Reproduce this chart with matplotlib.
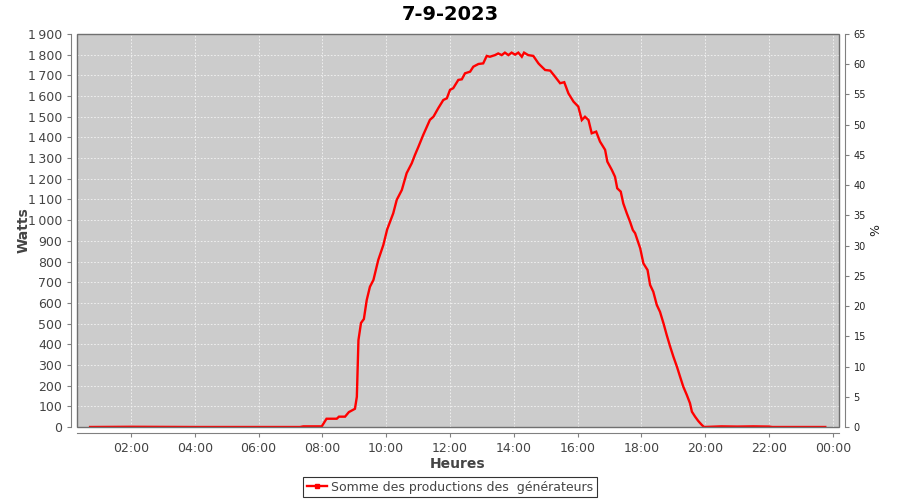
import matplotlib.pyplot as plt
from matplotlib.lines import Line2D
from matplotlib.patches import Rectangle
from matplotlib.ticker import FuncFormatter

# Production readings: decimal hours and watts
hours = [0.72, 2.0, 4.0, 6.0, 7.30, 7.40, 7.98, 8.13, 8.45, 8.52, 8.71, 8.83,
         9.02, 9.08, 9.13, 9.21, 9.30, 9.39, 9.49, 9.60, 9.75, 9.91, 10.03,
         10.22, 10.33, 10.49, 10.64, 10.80, 10.90, 11.01, 11.16, 11.37, 11.48,
         11.63, 11.79, 11.90, 12.00, 12.10, 12.26, 12.37, 12.47, 12.63, 12.73,
         12.89, 13.04, 13.15, 13.25, 13.41, 13.51, 13.62, 13.72, 13.83, 13.93,
         14.04, 14.14, 14.25, 14.32, 14.45, 14.61, 14.77, 14.82, 14.98, 15.14,
         15.29, 15.45, 15.58, 15.71, 15.87, 16.02, 16.13, 16.23, 16.34, 16.44,
         16.58, 16.70, 16.86, 16.93, 17.07, 17.17, 17.24, 17.35, 17.43, 17.54,
         17.64, 17.73, 17.80, 17.96, 18.06, 18.19, 18.27, 18.37, 18.48, 18.58,
         18.69, 18.79, 18.90, 19.00, 19.11, 19.21, 19.31, 19.42, 19.52, 19.58,
         19.68, 19.78, 19.89, 19.96, 20.5, 21.0, 21.5, 22.0, 22.1, 23.76]
watts = [0, 1, 0, 0, 0, 3, 3, 40, 40, 50, 50, 72,
         88, 146, 420, 503, 522, 614, 678, 711, 807, 880, 955,
         1033, 1098, 1146, 1227, 1275, 1315, 1355, 1412, 1485, 1500,
         1541, 1581, 1589, 1630, 1638, 1678, 1681, 1710, 1718, 1742,
         1755, 1758, 1794, 1790, 1798, 1806, 1798, 1810, 1798, 1810,
         1800, 1810, 1790, 1810, 1798, 1794, 1758, 1750, 1726, 1723,
         1694, 1662, 1667, 1613, 1573, 1549, 1484, 1500, 1484, 1420,
         1428, 1380, 1340, 1283, 1243, 1210, 1154, 1138, 1081, 1033,
         993, 952, 937, 864, 791, 759, 687, 654, 590, 557,
         501, 445, 388, 340, 292, 243, 195, 155, 115, 74,
         50, 29, 10, 0, 3, 2, 3, 2, 0, 0]

title = "7-9-2023"
series_name = "Somme des productions des  générateurs"
x_ticks = [2, 4, 6, 8, 10, 12, 14, 16, 18, 20, 22, 24]
w_ticks = list(range(0, 2000, 100))
pct_ticks = list(range(0, 70, 5))

grey_txt = "#444444"
axis_col = "#808080"

fig = plt.figure(figsize=(9, 5), dpi=100)
ax = fig.add_axes([77 / 900, 1 - 427 / 500, (839 - 77) / 900, (427 - 34) / 500])
ax.set_facecolor("#cccccc")

ax.plot(hours, watts, color="red", lw=1.7, solid_joinstyle="miter")

ax.set_xlim(0.31, 24.19)
ax.set_ylim(0, 1900)
ax.set_xticks(x_ticks)
ax.xaxis.set_major_formatter(FuncFormatter(lambda v, p: f"{int(v) % 24:02d}:00"))
ax.set_yticks(w_ticks)
ax.yaxis.set_major_formatter(FuncFormatter(lambda v, p: f"{int(v):,}".replace(",", "\u202f")))
ax.grid(True, color="#f4f4f4", ls=(0, (2, 2)), lw=0.6)
ax.set_axisbelow(True)

for s in ["left", "bottom"]:
    ax.spines[s].set_position(("outward", 4))
    ax.spines[s].set_color(axis_col)
ax.spines["top"].set_visible(False)
ax.spines["right"].set_visible(False)
ax.add_patch(Rectangle((0, 0), 1, 1, transform=ax.transAxes, fill=False,
                       ec="#707070", lw=1, clip_on=False, zorder=5))

ax.tick_params(axis="both", colors=axis_col, labelcolor=grey_txt, labelsize=9,
               length=3, width=0.8)
ax.set_xlabel("Heures", fontsize=10, fontweight="bold", color=grey_txt, labelpad=2)
ax.set_ylabel("Watts", fontsize=10, fontweight="bold", color=grey_txt, labelpad=-2)

ax2 = ax.twinx()
ax2.set_ylim(0, 65)
ax2.set_yticks(pct_ticks)
for s in ["left", "bottom", "top"]:
    ax2.spines[s].set_visible(False)
ax2.spines["right"].set_position(("outward", 4))
ax2.spines["right"].set_color(axis_col)
ax2.tick_params(axis="y", colors=axis_col, labelcolor="#222222", labelsize=7,
                length=3, width=0.8)
ax2.set_ylabel("%", fontsize=9, color="#222222", labelpad=2)

fig.suptitle(title, x=0.5, y=0.99, fontsize=14, fontweight="bold")

handle = Line2D([], [], color="red", lw=1.7, marker="s", ms=2.5)
leg = fig.legend([handle], [series_name], loc="center", bbox_to_anchor=(0.5, 0.026),
                 frameon=True, fancybox=False, fontsize=9, handlelength=1.6,
                 handletextpad=0.3, borderpad=0.3, borderaxespad=0)
leg.get_frame().set_edgecolor("black")
leg.get_frame().set_linewidth(0.8)
for t in leg.get_texts():
    t.set_color(grey_txt)

fig.savefig("out.png", dpi=100)
